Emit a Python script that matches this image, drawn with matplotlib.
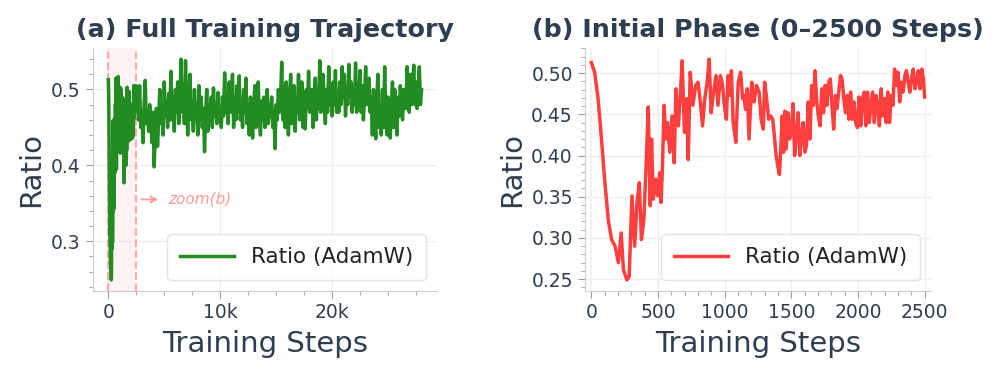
import numpy as np
import matplotlib.pyplot as plt
from matplotlib.ticker import MultipleLocator, FuncFormatter

# initial phase (0-2500 steps)
init_steps = [0, 25, 51, 76, 102, 127, 152, 178, 203, 224, 241, 267, 284, 305, 325, 343, 360, 376,
              394, 411, 427, 442, 452, 465, 483, 498, 513, 523, 533, 546, 559, 571, 589, 605, 622,
              635, 653, 668, 681, 699, 716, 727, 742, 762, 783, 800, 818, 834, 851, 869, 884, 899,
              914, 935, 950, 968, 983, 998, 1013, 1026, 1039, 1051, 1064, 1084, 1102, 1120, 1135,
              1144, 1157, 1170, 1183, 1203, 1221, 1239, 1259, 1274, 1290, 1300, 1315, 1330, 1346,
              1361, 1373, 1386, 1399, 1411, 1421, 1432, 1442, 1452, 1462, 1475, 1487, 1500, 1513,
              1525, 1538, 1551, 1564, 1576, 1589, 1602, 1614, 1627, 1640, 1653, 1665, 1678, 1691,
              1703, 1716, 1729, 1742, 1754, 1767, 1780, 1793, 1805, 1818, 1831, 1843, 1856, 1869,
              1881, 1894, 1907, 1920, 1932, 1945, 1958, 1970, 1983, 1996, 2008, 2021, 2034, 2047,
              2059, 2072, 2085, 2097, 2110, 2123, 2136, 2148, 2161, 2174, 2186, 2199, 2212, 2224,
              2237, 2250, 2263, 2275, 2288, 2301, 2313, 2326, 2339, 2352, 2364, 2377, 2390, 2402,
              2415, 2428, 2440, 2453, 2466, 2479, 2491, 2500]
init_ratio = [0.513, 0.501, 0.469, 0.420, 0.367, 0.322, 0.298, 0.290, 0.270, 0.306, 0.261, 0.249,
              0.253, 0.351, 0.290, 0.343, 0.367, 0.298, 0.322, 0.387, 0.459, 0.339, 0.420, 0.347,
              0.371, 0.351, 0.379, 0.343, 0.383, 0.461, 0.420, 0.440, 0.404, 0.448, 0.391, 0.481,
              0.436, 0.473, 0.515, 0.428, 0.469, 0.395, 0.501, 0.461, 0.485, 0.489, 0.465, 0.436,
              0.469, 0.489, 0.517, 0.452, 0.473, 0.497, 0.461, 0.497, 0.487, 0.461, 0.444, 0.497,
              0.473, 0.503, 0.440, 0.416, 0.489, 0.501, 0.469, 0.473, 0.456, 0.481, 0.420, 0.489,
              0.465, 0.485, 0.477, 0.444, 0.432, 0.489, 0.469, 0.444, 0.448, 0.444, 0.424, 0.400,
              0.387, 0.377, 0.408, 0.448, 0.404, 0.454, 0.408, 0.452, 0.420, 0.428, 0.463, 0.400,
              0.424, 0.452, 0.400, 0.424, 0.440, 0.404, 0.412, 0.465, 0.420, 0.485, 0.461, 0.503,
              0.465, 0.448, 0.436, 0.481, 0.452, 0.485, 0.461, 0.489, 0.493, 0.461, 0.432, 0.473,
              0.457, 0.477, 0.497, 0.493, 0.469, 0.452, 0.473, 0.444, 0.477, 0.444, 0.465, 0.440,
              0.434, 0.471, 0.436, 0.469, 0.477, 0.436, 0.477, 0.440, 0.461, 0.477, 0.440, 0.473,
              0.461, 0.436, 0.481, 0.448, 0.469, 0.440, 0.477, 0.440, 0.473, 0.461, 0.505, 0.485,
              0.501, 0.465, 0.489, 0.477, 0.497, 0.503, 0.489, 0.477, 0.493, 0.505, 0.481, 0.489,
              0.503, 0.481, 0.505, 0.493, 0.471]

# rest of the run (2600-28000 steps, every 100)
late_steps = list(range(2600, 28001, 100))
late_ratio = [0.490, 0.460, 0.505, 0.450, 0.470, 0.430, 0.480, 0.512, 0.455, 0.470,
              0.445, 0.480, 0.460, 0.430, 0.470, 0.398, 0.440, 0.475, 0.425, 0.460,
              0.500, 0.455, 0.480, 0.440, 0.510, 0.465, 0.485, 0.450, 0.495, 0.460,
              0.524, 0.460, 0.490, 0.445, 0.500, 0.470, 0.510, 0.455, 0.485, 0.540,
              0.470, 0.500, 0.455, 0.538, 0.480, 0.440, 0.490, 0.520, 0.460, 0.485,
              0.445, 0.500, 0.465, 0.480, 0.440, 0.505, 0.460, 0.490, 0.450, 0.475,
              0.418, 0.470, 0.500, 0.445, 0.480, 0.460, 0.490, 0.450, 0.502, 0.465,
              0.480, 0.455, 0.496, 0.460, 0.475, 0.450, 0.490, 0.465, 0.522, 0.470,
              0.490, 0.455, 0.510, 0.470, 0.480, 0.520, 0.450, 0.490, 0.460, 0.505,
              0.470, 0.518, 0.460, 0.485, 0.450, 0.500, 0.470, 0.515, 0.455, 0.480,
              0.440, 0.490, 0.465, 0.436, 0.480, 0.505, 0.450, 0.470, 0.510, 0.460,
              0.440, 0.485, 0.460, 0.490, 0.450, 0.470, 0.500, 0.455, 0.480, 0.465,
              0.490, 0.450, 0.470, 0.422, 0.480, 0.460, 0.500, 0.470, 0.490, 0.536,
              0.460, 0.500, 0.450, 0.510, 0.470, 0.440, 0.490, 0.520, 0.455, 0.480,
              0.505, 0.445, 0.490, 0.470, 0.520, 0.460, 0.480, 0.510, 0.450, 0.495,
              0.448, 0.500, 0.475, 0.524, 0.470, 0.490, 0.500, 0.450, 0.480, 0.515,
              0.460, 0.490, 0.475, 0.538, 0.470, 0.500, 0.520, 0.480, 0.455, 0.500,
              0.470, 0.530, 0.480, 0.500, 0.465, 0.510, 0.480, 0.525, 0.470, 0.495,
              0.470, 0.510, 0.480, 0.530, 0.490, 0.520, 0.465, 0.500, 0.480, 0.533,
              0.490, 0.510, 0.470, 0.500, 0.480, 0.535, 0.470, 0.500, 0.490, 0.525,
              0.470, 0.505, 0.460, 0.490, 0.530, 0.480, 0.500, 0.515, 0.470, 0.490,
              0.440, 0.500, 0.470, 0.435, 0.490, 0.520, 0.450, 0.480, 0.440, 0.500,
              0.450, 0.530, 0.470, 0.440, 0.490, 0.460, 0.436, 0.480, 0.510, 0.450,
              0.500, 0.470, 0.440, 0.490, 0.465, 0.505, 0.480, 0.460, 0.500, 0.475,
              0.475, 0.530, 0.490, 0.470, 0.520, 0.480, 0.500, 0.532, 0.480, 0.510,
              0.475, 0.500, 0.530, 0.480, 0.500]

full_steps = init_steps + late_steps
full_ratio = init_ratio + late_ratio

text_c = '#2c3e50'
plt.rcParams['font.family'] = 'DejaVu Sans'

fig = plt.figure(figsize=(9.96, 3.73), dpi=100)
ax1 = fig.add_axes([0.093, 0.22, 0.346, 0.651])
ax2 = fig.add_axes([0.587, 0.22, 0.348, 0.651])

def style(ax):
    for s in ['top', 'right']:
        ax.spines[s].set_visible(False)
    for s in ['left', 'bottom']:
        ax.spines[s].set_color('#cccccc')
    ax.grid(True, color='#eeeeee', linewidth=1)
    ax.set_axisbelow(True)
    ax.tick_params(which='both', colors='#999999', labelcolor=text_c, labelsize=13.5)
    ax.tick_params(which='major', length=5)
    ax.tick_params(which='minor', length=3)
    ax.set_xlabel('Training Steps', fontsize=21, color=text_c, labelpad=6)
    ax.set_ylabel('Ratio', fontsize=21, color=text_c)

def add_legend(ax):
    leg = ax.legend(loc='lower right', fontsize=15.5, frameon=True, fancybox=True,
                    borderpad=0.6, handlelength=2.5)
    leg.get_frame().set_edgecolor('#dddddd')
    for t in leg.get_texts():
        t.set_color('#222222')

# (a) full run
ax1.axvspan(0, 2500, color='#ffcccc', alpha=0.25, lw=0)
ax1.axvline(0, color='#ff9999', ls='--', lw=1.5, alpha=0.8)
ax1.axvline(2500, color='#ff9999', ls='--', lw=1.5, alpha=0.8)
ax1.plot(full_steps, full_ratio, color='#228B22', lw=2.5, label='Ratio (AdamW)')
ax1.annotate('', xy=(4700, 0.355), xytext=(2700, 0.355),
             arrowprops=dict(arrowstyle='->', color='#ff9999', lw=1.3))
ax1.text(5300, 0.355, 'zoom(b)', color='#ff9999', fontsize=11, style='italic', va='center')
style(ax1)
ax1.xaxis.set_major_locator(MultipleLocator(10000))
ax1.xaxis.set_minor_locator(MultipleLocator(2500))
ax1.xaxis.set_major_formatter(FuncFormatter(lambda v, p: '0' if v == 0 else f'{int(v/1000)}k'))
ax1.yaxis.set_major_locator(MultipleLocator(0.1))
ax1.yaxis.set_minor_locator(MultipleLocator(0.02))
ax1.set_title('(a) Full Training Trajectory', fontsize=18.3, fontweight='bold', color=text_c, pad=8)
add_legend(ax1)

# (b) first 2500 steps
ax2.plot(init_steps, init_ratio, color='#ff3333', alpha=0.95, lw=2.5, label='Ratio (AdamW)')
style(ax2)
ax2.set_xlim(-50, 2550)
ax2.xaxis.set_major_locator(MultipleLocator(500))
ax2.xaxis.set_minor_locator(MultipleLocator(100))
ax2.yaxis.set_major_locator(MultipleLocator(0.05))
ax2.yaxis.set_minor_locator(MultipleLocator(0.01))
ax2.yaxis.set_major_formatter(FuncFormatter(lambda v, p: f'{v:.2f}'))
ax2.set_title('(b) Initial Phase (0\u20132500 Steps)', fontsize=18.3, fontweight='bold', color=text_c, pad=8)
add_legend(ax2)

fig.savefig('out.png', dpi=100)
